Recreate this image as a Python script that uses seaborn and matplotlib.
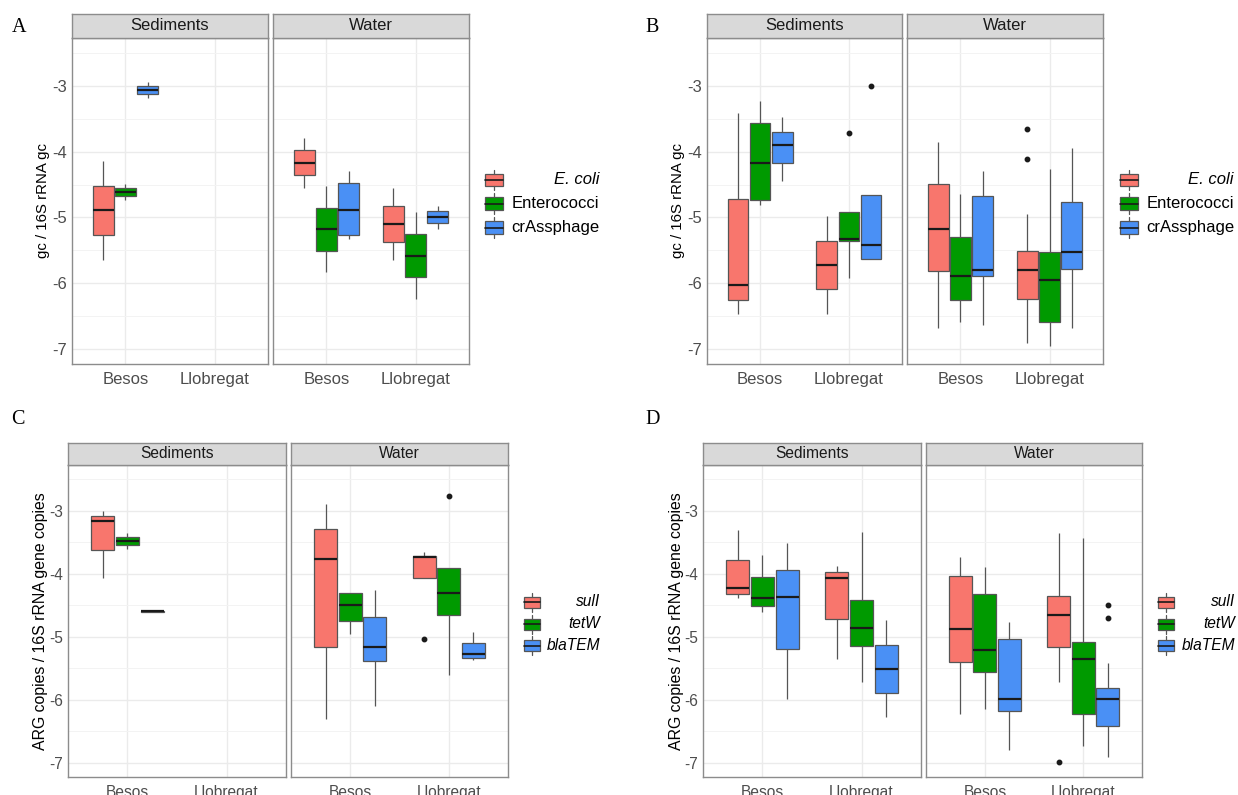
import pandas as pd
import matplotlib.pyplot as plt
import seaborn as sns
from matplotlib.patches import Rectangle
from matplotlib.lines import Line2D

# ---------------------------------------------------------------
# Box summaries (log10 ratios)
# each row: facet, river, target, low whisker, q1, median, q3, high whisker, outliers
# ---------------------------------------------------------------
RIVERS = ['Besos', 'Llobregat']
FACETS = ['Sediments', 'Water']
FIB_TARGETS = ['E. coli', 'Enterococci', 'crAssphage']
ARG_TARGETS = ['sulI', 'tetW', 'blaTEM']
COLORS = ['#F8766D', '#009A00', '#4A90F5']

# --- A : faecal markers, season 1 ---
a_facet = ['Sediments'] * 3 + ['Water'] * 6
a_river = ['Besos'] * 6 + ['Llobregat'] * 3
a_target = FIB_TARGETS * 3
a_low = [-5.64, -4.74, -3.19, -4.56, -5.83, -5.32, -5.65, -6.24, -5.17]
a_q1 = [-5.27, -4.68, -3.13, -4.36, -5.51, -5.26, -5.38, -5.91, -5.09]
a_med = [-4.89, -4.62, -3.07, -4.17, -5.18, -4.88, -5.10, -5.58, -4.99]
a_q3 = [-4.52, -4.56, -3.01, -3.98, -4.85, -4.47, -4.82, -5.25, -4.90]
a_high = [-4.15, -4.49, -2.95, -3.79, -4.52, -4.29, -4.55, -4.91, -4.82]
a_out = [[], [], [], [], [], [], [], [], []]

# --- B : faecal markers, season 2 ---
b_facet = ['Sediments'] * 6 + ['Water'] * 6
b_river = (['Besos'] * 3 + ['Llobregat'] * 3) * 2
b_target = FIB_TARGETS * 4
b_low = [-6.47, -4.81, -4.45, -6.46, -5.92, -5.63, -6.68, -6.58, -6.64, -6.91, -6.95, -6.68]
b_q1 = [-6.25, -4.73, -4.18, -6.09, -5.35, -5.63, -5.82, -6.26, -5.89, -6.24, -6.59, -5.79]
b_med = [-6.02, -4.18, -3.90, -5.72, -5.32, -5.42, -5.18, -5.89, -5.80, -5.80, -5.95, -5.53]
b_q3 = [-4.72, -3.56, -3.70, -5.35, -4.91, -4.66, -4.49, -5.30, -4.68, -5.51, -5.52, -4.77]
b_high = [-3.42, -3.23, -3.48, -4.98, -4.91, -4.66, -3.85, -4.65, -4.29, -4.94, -4.27, -3.95]
b_out = [[], [], [], [], [-3.72], [-3.00], [], [], [], [-4.11, -3.65], [], []]

# --- C : resistance genes, season 1 ---
c_facet = ['Sediments'] * 3 + ['Water'] * 6
c_river = ['Besos'] * 6 + ['Llobregat'] * 3
c_target = ARG_TARGETS * 3
c_low = [-4.06, -3.61, -4.615, -6.31, -4.95, -6.10, -4.06, -5.61, -5.37]
c_q1 = [-3.63, -3.55, -4.605, -5.16, -4.75, -5.39, -4.06, -4.66, -5.34]
c_med = [-3.17, -3.48, -4.597, -3.76, -4.49, -5.16, -3.74, -4.30, -5.27]
c_q3 = [-3.09, -3.42, -4.590, -3.29, -4.31, -4.69, -3.72, -3.91, -5.10]
c_high = [-3.00, -3.35, -4.580, -2.89, -4.30, -4.26, -3.66, -3.91, -4.92]
c_out = [[], [], [], [], [], [], [-5.04], [-2.76], []]

# --- D : resistance genes, season 2 ---
d_facet = ['Sediments'] * 6 + ['Water'] * 6
d_river = (['Besos'] * 3 + ['Llobregat'] * 3) * 2
d_target = ARG_TARGETS * 4
d_low = [-4.39, -4.61, -5.99, -5.36, -5.72, -6.28, -6.23, -6.15, -6.80, -5.72, -6.73, -6.91]
d_q1 = [-4.32, -4.51, -5.19, -4.72, -5.15, -5.89, -5.40, -5.56, -6.18, -5.16, -6.23, -6.41]
d_med = [-4.22, -4.39, -4.37, -4.06, -4.86, -5.51, -4.87, -5.21, -5.98, -4.66, -5.35, -5.99]
d_q3 = [-3.78, -4.05, -3.94, -3.97, -4.42, -5.13, -4.04, -4.32, -5.03, -4.35, -5.09, -5.81]
d_high = [-3.31, -3.70, -3.51, -3.88, -3.34, -4.74, -3.74, -3.90, -4.76, -3.36, -3.43, -5.42]
d_out = [[], [], [], [], [], [], [], [], [], [-6.98], [], [-4.71, -4.49]]

Y_LABEL_FIB = 'gc / 16S rRNA gc'
Y_LABEL_ARG = 'ARG copies / 16S rRNA gene copies'


def to_frame(facet, river, target, low, q1, med, q3, high, out):
    # observations that reproduce the read quartiles / whiskers exactly
    rows = []
    for i in range(len(facet)):
        vals = [low[i]] + [q1[i]] * 4 + [med[i]] * 4 + [q3[i]] * 4 + [high[i]] + list(out[i])
        for v in vals:
            rows.append((facet[i], river[i], target[i], v))
    return pd.DataFrame(rows, columns=['facet', 'river', 'target', 'value'])


W, H = 1238, 795
sns.set_style('white')
plt.rcParams['font.family'] = ['Liberation Sans', 'DejaVu Sans']
plt.rcParams['axes.unicode_minus'] = False
fig = plt.figure(figsize=(W / 100, H / 100), dpi=100)


def px_axes(x0, y0, x1, y1):
    return fig.add_axes([x0 / W, 1 - y1 / H, (x1 - x0) / W, (y1 - y0) / H])


BORDER = '#8C8C8C'
LINE = '#555555'

panels = [
    dict(df=to_frame(a_facet, a_river, a_target, a_low, a_q1, a_med, a_q3, a_high, a_out),
         targets=FIB_TARGETS, italic=[True, False, False], ylabel=Y_LABEL_FIB,
         facets=[(72, 268), (273, 469)], strip=(14, 38), panel=(38, 364),
         letter='A', letter_xy=(19, 27), ylabel_x=43, fs=12, yfs=10.8,
         key_x=494, rows=[180, 203.5, 227.5], label_r=599, key_w=18, key_h=12.5),
    dict(df=to_frame(b_facet, b_river, b_target, b_low, b_q1, b_med, b_q3, b_high, b_out),
         targets=FIB_TARGETS, italic=[True, False, False], ylabel=Y_LABEL_FIB,
         facets=[(707, 902), (907, 1103)], strip=(14, 38), panel=(38, 364),
         letter='B', letter_xy=(652, 27), ylabel_x=678, fs=12, yfs=10.8,
         key_x=1129, rows=[180, 203.5, 227.5], label_r=1234, key_w=18, key_h=12.5),
    dict(df=to_frame(c_facet, c_river, c_target, c_low, c_q1, c_med, c_q3, c_high, c_out),
         targets=ARG_TARGETS, italic=[True, True, True], ylabel=Y_LABEL_ARG,
         facets=[(68, 286), (291, 508)], strip=(443, 465), panel=(465, 777),
         letter='C', letter_xy=(18, 420), ylabel_x=41, fs=11.2, yfs=11.4,
         key_x=532, rows=[602, 624, 645.5], label_r=600, key_w=16.5, key_h=11),
    dict(df=to_frame(d_facet, d_river, d_target, d_low, d_q1, d_med, d_q3, d_high, d_out),
         targets=ARG_TARGETS, italic=[True, True, True], ylabel=Y_LABEL_ARG,
         facets=[(703, 921), (926, 1142)], strip=(443, 465), panel=(465, 777),
         letter='D', letter_xy=(653, 420), ylabel_x=676, fs=11.2, yfs=11.4,
         key_x=1166, rows=[602, 624, 645.5], label_r=1235, key_w=16.5, key_h=11),
]

for p in panels:
    palette = dict(zip(p['targets'], COLORS))
    for j, (fname, (x0, x1)) in enumerate(zip(FACETS, p['facets'])):
        ax = px_axes(x0, p['panel'][0], x1, p['panel'][1])
        sub = p['df'][p['df']['facet'] == fname]
        sns.boxplot(data=sub, x='river', y='value', hue='target',
                    order=RIVERS, hue_order=p['targets'], palette=palette,
                    saturation=1, width=0.75, gap=0.07, dodge=True,
                    linecolor=LINE, linewidth=0.9, showcaps=False,
                    medianprops=dict(color='#1A1A1A', linewidth=1.6),
                    flierprops=dict(marker='o', markersize=3.2,
                                    markerfacecolor='#1A1A1A', markeredgecolor='#1A1A1A'),
                    legend=False, ax=ax)
        ax.set_xlim(-0.6, 1.6)
        ax.set_ylim(-7.225, -2.275)
        ax.set_yticks([-7, -6, -5, -4, -3])
        ax.set_yticks([-6.5, -5.5, -4.5, -3.5, -2.5], minor=True)
        ax.set_xlabel('')
        ax.set_ylabel('')
        ax.set_facecolor('white')
        ax.set_axisbelow(True)
        ax.grid(which='major', color='#EBEBEB', linewidth=1.0)
        ax.grid(which='minor', axis='y', color='#F3F3F3', linewidth=0.7)
        for s in ax.spines.values():
            s.set_visible(True)
            s.set_color(BORDER)
            s.set_linewidth(1.0)
        ax.tick_params(which='major', direction='out', length=2.6, width=0.8,
                       color=LINE, labelcolor='#4D4D4D', labelsize=p['fs'])
        ax.tick_params(axis='x', which='major', pad=3.0)
        ax.tick_params(axis='y', which='major', pad=1.2)
        ax.tick_params(which='minor', length=0)
        if j > 0:
            ax.tick_params(axis='y', which='both', left=False, labelleft=False)

        # facet strip
        sax = px_axes(x0, p['strip'][0], x1, p['strip'][1])
        sax.set_facecolor('#D9D9D9')
        sax.set_xticks([])
        sax.set_yticks([])
        for s in sax.spines.values():
            s.set_visible(True)
            s.set_color(BORDER)
            s.set_linewidth(1.0)
        sax.text(0.5, 0.5, fname, transform=sax.transAxes, ha='center', va='center',
                 fontsize=p['fs'], color='#1A1A1A')

# overlay in pixel units for letters, axis titles and legends
overlay = fig.add_axes([0, 0, 1, 1])
overlay.set_xlim(0, W)
overlay.set_ylim(H, 0)
overlay.axis('off')

for p in panels:
    overlay.text(p['letter_xy'][0], p['letter_xy'][1], p['letter'], ha='center', va='center',
                 fontsize=14.5, family=['Liberation Serif', 'DejaVu Serif'], color='black')
    yc = (p['panel'][0] + p['panel'][1]) / 2
    overlay.text(p['ylabel_x'], yc, p['ylabel'], rotation=90, ha='center', va='center',
                 fontsize=p['yfs'], color='black')
    kw, kh = p['key_w'], p['key_h']
    for lab, col, cy, it in zip(p['targets'], COLORS, p['rows'], p['italic']):
        cx = p['key_x']
        overlay.add_patch(Rectangle((cx - kw / 2, cy - kh / 2), kw, kh, facecolor=col,
                                    edgecolor=LINE, linewidth=0.9))
        overlay.add_line(Line2D([cx - kw / 2, cx + kw / 2], [cy, cy], color='#1A1A1A', linewidth=1.2))
        overlay.add_line(Line2D([cx, cx], [cy - kh / 2 - 4, cy - kh / 2], color=LINE, linewidth=0.9))
        overlay.add_line(Line2D([cx, cx], [cy + kh / 2, cy + kh / 2 + 4], color=LINE, linewidth=0.9))
        overlay.text(p['label_r'], cy, lab, ha='right', va='center', fontsize=p['fs'],
                     style='italic' if it else 'normal', color='black')

fig.savefig('out.png', dpi=100, facecolor='white')
